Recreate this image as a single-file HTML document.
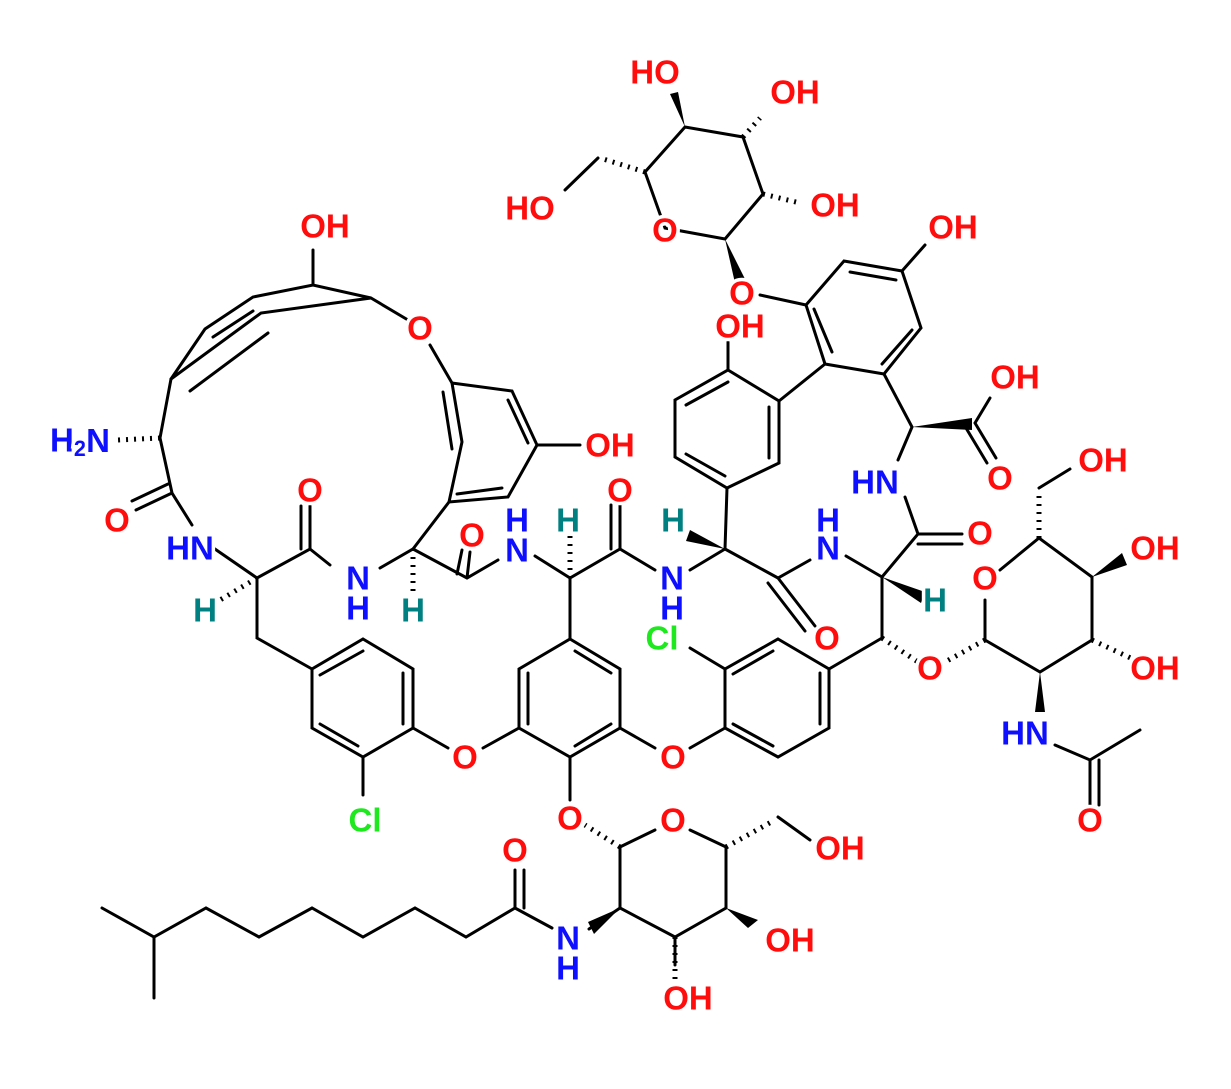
<!DOCTYPE html>
<html><head><meta charset="utf-8"><style>
html,body{margin:0;padding:0;background:#fff}
svg{display:block}
text{font-family:"Liberation Sans",sans-serif;font-weight:bold;font-size:33px;text-anchor:middle;dominant-baseline:central;paint-order:stroke;stroke:#fff;stroke-width:7px}
.o{fill:#ff0d0d}.n{fill:#0f0fff}.h{fill:#008080}.c{fill:#1ee81e}
</style></head><body>
<svg width="1231" height="1089" viewBox="0 0 1231 1089" xmlns="http://www.w3.org/2000/svg">
<g stroke="#000" stroke-width="3" fill="none" stroke-linecap="round">
<!-- top sugar -->
<path d="M645,172 L685,127 L743,137 L763,194 L725,239 L665,228 Z"/>
<path d="M598,158 L565,190"/>
<!-- ring B -->
<path d="M806,305 L844,261 L902,271 L921,328 L884,374 L825,364 Z"/>
<path d="M850,272 L896,280 M912,330 L882,364 M832,352 L814,309"/>
<path d="M806,305 L760,295 M902,271 L925,245"/>
<!-- ring A -->
<path d="M728,370 L779,401 L779,463 L727,488 L675,457 L675,400 Z"/>
<path d="M728,382 L686,405 M769,407 L769,458 M725,476 L686,454"/>
<path d="M728,370 L728,342 M779,401 L825,364 M727,488 L725,549"/>
<!-- COOH -->
<path d="M884,374 L912,427 M975,423 L990,398 M975,423 L996,458 M966,428 L987,463 M912,427 L898,460"/>
<path d="M905,497 L918,534 L882,577 M918,534 L962,534 M918,544 L962,544"/>
<path d="M882,577 L846,556 M882,577 L882,638"/>
<!-- central peptide -->
<path d="M725,549 L778,578 L810,560 M778,578 L815,626 M768,583 L805,631"/>
<path d="M725,549 L690,570"/>
<path d="M655,570 L620,549 L570,578 L535,556 M620,549 L620,505 M611,549 L611,505"/>
<path d="M570,578 L570,639"/>
<path d="M498,560 L467,578 L413,549 L380,568 M467,578 L470,552 M457,574 L462,550"/>
<path d="M413,549 L449,502"/>
<path d="M330,565 L310,549 L257,578 L212,547 M310,549 L310,506 M301,549 L301,506"/>
<path d="M257,578 L257,638 L312,669"/>
<!-- macrocycle -->
<path d="M449,502 L462,442 L452,383 L512,391 L537,445 L508,497 Z"/>
<path d="M452,449 L443,392 M508,400 L528,443 M502,488 L457,494"/>
<path d="M537,445 L580,445 M452,383 L430,345 M408,320 L371,298"/>
<path d="M171,379 L205,329 L253,297 L313,285 L371,298 L261,313 L171,379 M213,337 L253,311 M190,391 L268,333 M313,285 L313,250"/>
<path d="M171,379 L160,438 L172,493 L192,525 M172,493 L136,510 M168,484 L132,501"/>
<!-- left ring -->
<path d="M363,639 L413,669 L413,728 L363,757 L312,728 L312,669 Z"/>
<path d="M363,651 L320,675 M403,673 L403,724 M358,746 L320,724"/>
<path d="M363,757 L363,795 M413,728 L448,748"/>
<!-- middle ring -->
<path d="M570,639 L620,669 L620,728 L570,757 L519,728 L519,669 Z"/>
<path d="M575,651 L611,673 M528,673 L528,724 M575,746 L611,724"/>
<path d="M519,728 L483,748 M620,728 L655,748 M570,757 L570,800"/>
<!-- Cl ring -->
<path d="M778,639 L829,669 L829,728 L778,757 L725,728 L725,669 Z"/>
<path d="M773,651 L733,674 M820,673 L820,724 M773,746 L733,724"/>
<path d="M725,728 L690,748 M725,669 L690,648 M829,669 L882,638"/>
<!-- right sugar -->
<path d="M1000,570 L1039,538 L1092,577 L1092,640 L1040,672 L985,640 L985,600"/>
<path d="M1039,488 L1070,469"/>
<path d="M1055,745 L1090,760 L1140,730 M1090,760 L1090,805 M1099,760 L1099,805"/>
<!-- bottom sugar -->
<path d="M655,830 L620,847 L620,908 L675,937 L726,908 L726,847 L690,830"/>
<path d="M778,817 L810,840 M675,937 L675,965"/>
<path d="M589,929 L620,908"/>
<path d="M552,928 L515,908 L466,937 L415,908 L363,937 L312,908 L259,937 L206,908 L154,937 L102,908 M154,937 L154,998 M515,908 L515,870 M524,908 L524,870"/>
</g>
<!-- wedges -->
<g fill="#000">
<polygon points="685,127 678,92 670,94"/>
<polygon points="725,239 735,283 745,279"/>
<polygon points="912,427 972,418 972,430"/>
<polygon points="882,577 925,592 921,603"/>
<polygon points="725,549 690,530 686,541"/>
<polygon points="1092,577 1122,553 1127,565"/>
<polygon points="1040,672 1035,712 1045,712"/>
<polygon points="620,908 588,922 594,934"/>
<polygon points="726,908 748,928 758,920"/>
</g>
<!-- hashes -->
<g stroke="#000" stroke-width="5" fill="none" stroke-dasharray="2,6">
<path d="M645,172 L600,158"/>
<path d="M743,137 L760,118"/>
<path d="M763,194 L800,203"/>
<path d="M1039,538 L1039,492"/>
<path d="M1092,640 L1135,660"/>
<path d="M985,640 L945,662"/>
<path d="M882,638 L918,662"/>
<path d="M620,847 L585,825"/>
<path d="M726,847 L775,820"/>
<path d="M675,937 L675,980"/>
<path d="M160,438 L118,440"/>
<path d="M257,578 L220,600"/>
<path d="M413,549 L413,595"/>
<path d="M570,578 L570,535"/>
</g>
<!-- labels -->
<text class="o" x="655" y="72">HO</text>
<text class="o" x="795" y="92">OH</text>
<text class="o" x="530" y="208">HO</text>
<text class="o" x="835" y="205">OH</text>
<text class="o" x="665" y="230">O</text>
<text class="o" x="742" y="293">O</text>
<text class="o" x="953" y="227">OH</text>
<text class="o" x="740" y="326">OH</text>
<text class="o" x="1015" y="377">OH</text>
<text class="o" x="1000" y="478">O</text>
<text class="n" x="875" y="482">HN</text>
<text class="o" x="980" y="533">O</text>
<text class="o" x="1103" y="460">OH</text>
<text class="o" x="1155" y="548">OH</text>
<text class="o" x="985" y="578">O</text>
<text class="h" x="935" y="600">H</text>
<text class="n" x="828" y="520">H</text>
<text class="n" x="828" y="548">N</text>
<text class="o" x="827" y="638">O</text>
<text class="o" x="930" y="668">O</text>
<text class="o" x="1155" y="668">OH</text>
<text class="n" x="1025" y="733">HN</text>
<text class="o" x="1090" y="820">O</text>
<text class="o" x="325" y="226">OH</text>
<text class="o" x="420" y="328">O</text>
<text class="o" x="610" y="445">OH</text>
<text class="n" x="80" y="440">H<tspan font-size="22" dy="8">2</tspan><tspan dy="-8">N</tspan></text>
<text class="o" x="117" y="520">O</text>
<text class="n" x="190" y="548">HN</text>
<text class="h" x="205" y="610">H</text>
<text class="o" x="310" y="490">O</text>
<text class="n" x="358" y="578">N</text>
<text class="n" x="358" y="608">H</text>
<text class="h" x="413" y="610">H</text>
<text class="o" x="472" y="535">O</text>
<text class="n" x="517" y="520">H</text>
<text class="n" x="517" y="550">N</text>
<text class="h" x="568" y="520">H</text>
<text class="o" x="620" y="490">O</text>
<text class="h" x="673" y="520">H</text>
<text class="n" x="672" y="578">N</text>
<text class="n" x="672" y="608">H</text>
<text class="c" x="662" y="638">Cl</text>
<text class="o" x="465" y="757">O</text>
<text class="o" x="673" y="757">O</text>
<text class="c" x="365" y="820">Cl</text>
<text class="o" x="570" y="818">O</text>
<text class="o" x="673" y="820">O</text>
<text class="o" x="840" y="848">OH</text>
<text class="o" x="515" y="850">O</text>
<text class="n" x="568" y="938">N</text>
<text class="n" x="568" y="968">H</text>
<text class="o" x="790" y="940">OH</text>
<text class="o" x="688" y="998">OH</text>
</svg>
</body></html>
